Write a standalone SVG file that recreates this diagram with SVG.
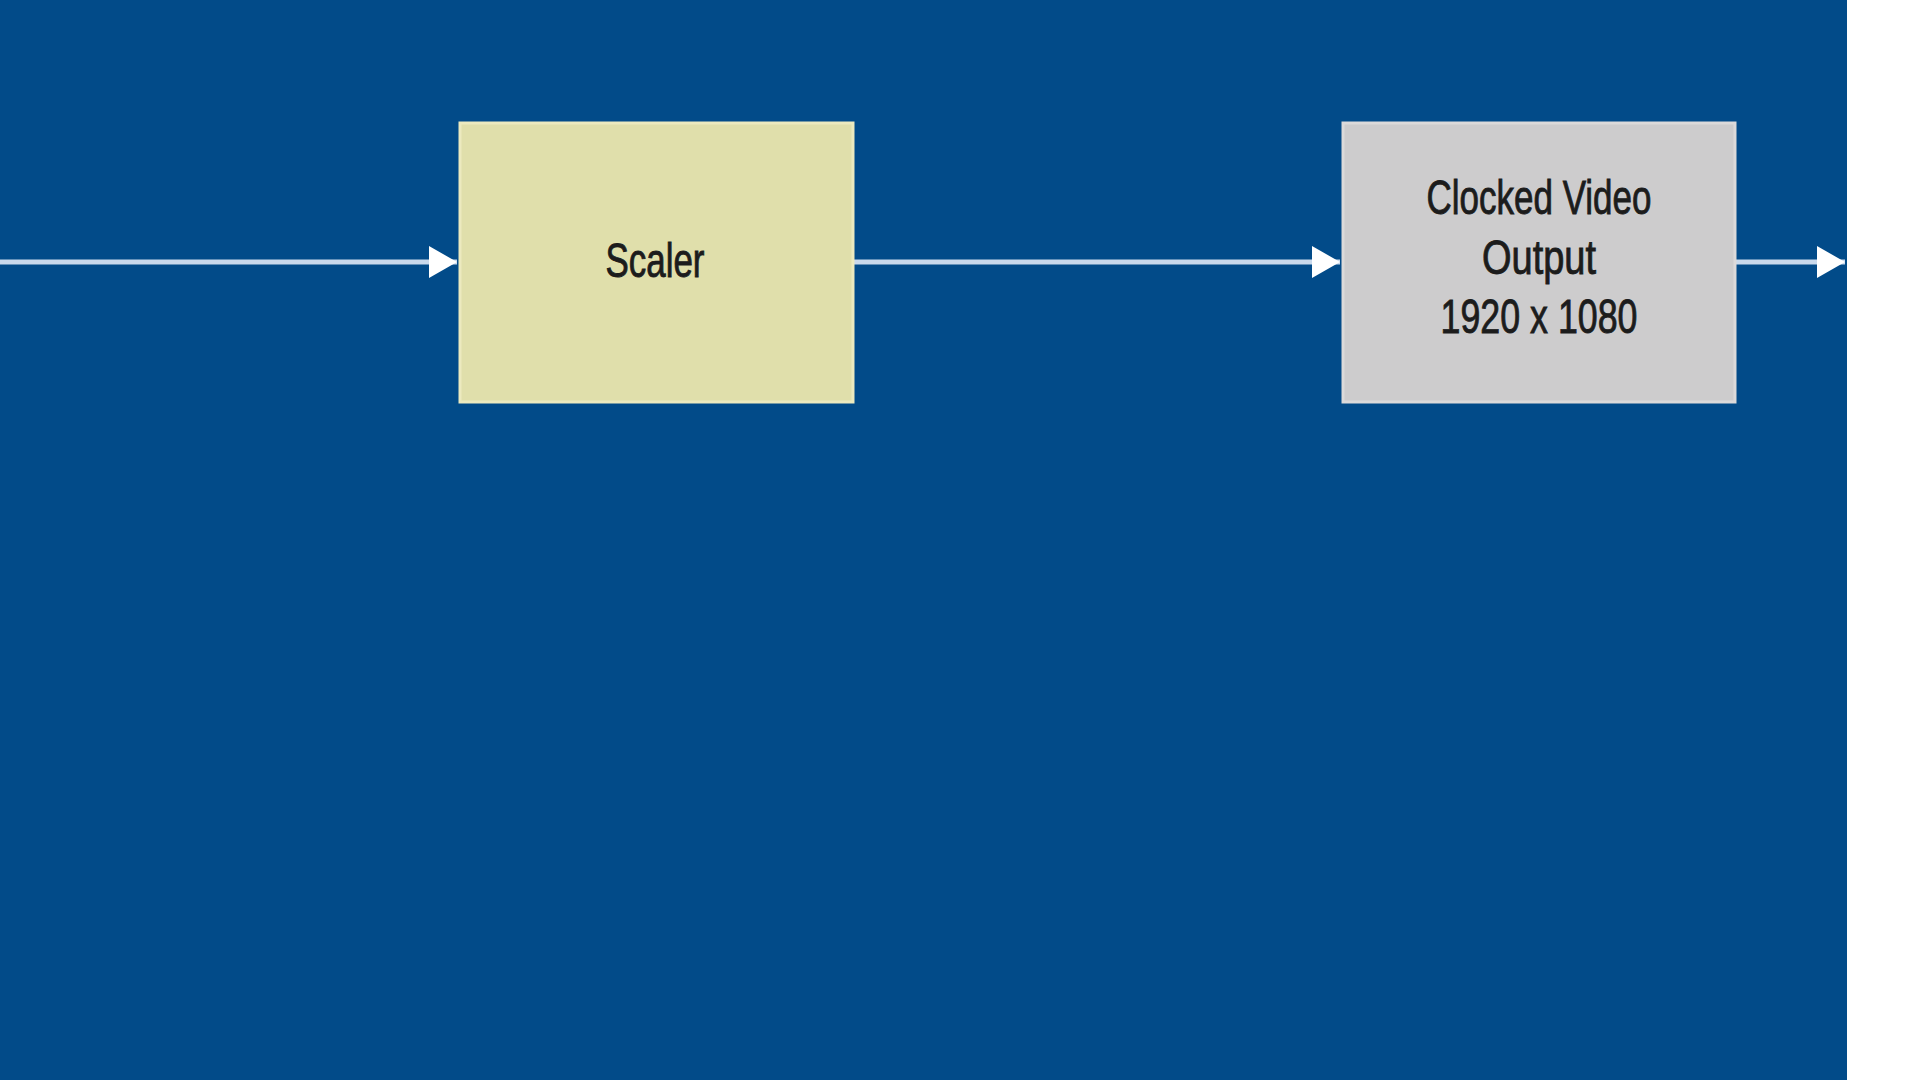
<svg xmlns="http://www.w3.org/2000/svg" width="1920" height="1080" viewBox="0 0 1920 1080">
  <defs>
    <marker id="arrow" markerWidth="28" markerHeight="32" refX="28" refY="16" orient="auto" markerUnits="userSpaceOnUse">
      <path d="M0,0 L28,16 L0,32 Z" fill="#ffffff"/>
    </marker>
    <style>
      .conn { stroke: #c9d9ec; stroke-width: 5; fill: none; }
      .lbl { font-family: "Liberation Sans", "DejaVu Sans", sans-serif; font-size: 48px; fill: #1c1c1c; stroke: #1c1c1c; stroke-width: 0.9; text-anchor: middle; }
    </style>
  </defs>
  <rect x="0" y="0" width="1920" height="1080" fill="#ffffff"/>
  <rect x="0" y="0" width="1847" height="1080" fill="#024b89"/>
  <g id="connectors">
    <line class="conn" x1="0" y1="262" x2="457" y2="262" marker-end="url(#arrow)"/>
    <line class="conn" x1="853" y1="262" x2="1340" y2="262" marker-end="url(#arrow)"/>
    <line class="conn" x1="1735" y1="262" x2="1845" y2="262" marker-end="url(#arrow)"/>
  </g>
  <g id="scaler">
    <rect x="460" y="123" width="393" height="279" fill="#e0dfab" stroke="#eceabf" stroke-width="3"/>
    <text class="lbl" x="655" y="277" textLength="99" lengthAdjust="spacingAndGlyphs">Scaler</text>
  </g>
  <g id="clocked-video-output">
    <rect x="1343" y="123" width="392" height="279" fill="#cdcccd" stroke="#dcdada" stroke-width="3"/>
    <text class="lbl" x="1539" y="214" textLength="225" lengthAdjust="spacingAndGlyphs">Clocked Video</text>
    <text class="lbl" x="1539" y="274" textLength="114" lengthAdjust="spacingAndGlyphs">Output</text>
    <text class="lbl" x="1539" y="333" textLength="197" lengthAdjust="spacingAndGlyphs">1920 x 1080</text>
  </g>
</svg>
